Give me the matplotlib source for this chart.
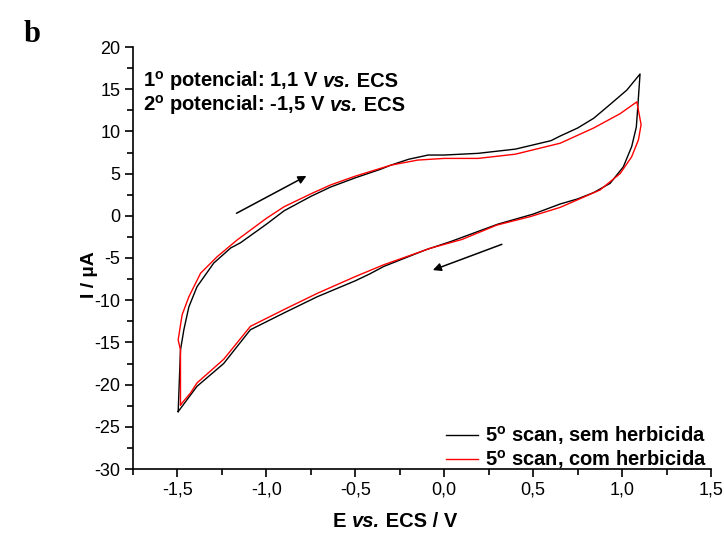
import matplotlib
matplotlib.use("Agg")
import matplotlib.pyplot as plt
from matplotlib.ticker import MultipleLocator, FuncFormatter

plt.rcParams['font.family'] = ['Liberation Sans', 'DejaVu Sans']
plt.rcParams['axes.unicode_minus'] = False
plt.rcParams['mathtext.fontset'] = 'custom'
plt.rcParams['mathtext.bf'] = 'Liberation Sans:bold'
plt.rcParams['mathtext.rm'] = 'Liberation Sans'

# ---- data ----
# black: 5th scan, without herbicide (forward branch then reverse branch)
E_black = [-1.496, -1.483, -1.464, -1.436, -1.39, -1.296, -1.20, -1.146, -1.0, -0.90,
           -0.75, -0.64, -0.50, -0.36, -0.30, -0.20, -0.09, 0.0, 0.19, 0.40, 0.60,
           0.652, 0.75, 0.84, 0.933, 1.027, 1.101,
           1.087, 1.08, 1.054, 1.007, 0.933, 0.84, 0.75, 0.652, 0.50, 0.30, 0.034,
           -0.10, -0.34, -0.42, -0.50, -0.715, -0.90, -1.09, -1.24, -1.39, -1.496]
I_black = [-23.2, -15.9, -13.5, -10.8, -8.4, -5.6, -3.8, -3.2, -1.0, 0.6,
           2.3, 3.4, 4.5, 5.5, 6.0, 6.7, 7.2, 7.2, 7.4, 7.9, 8.9,
           9.45, 10.4, 11.55, 13.2, 14.9, 16.8,
           12.5, 10.5, 8.2, 5.8, 3.85, 2.75, 2.0, 1.4, 0.2, -1.0, -3.07,
           -4.0, -6.0, -6.9, -7.7, -9.6, -11.5, -13.5, -17.5, -20.2, -23.2]

# red: 5th scan, with herbicide
E_red = [-1.483, -1.483, -1.496, -1.474, -1.436, -1.37, -1.277, -1.165, -1.0, -0.90,
         -0.75, -0.64, -0.50, -0.30, -0.15, 0.0, 0.19, 0.40, 0.652, 0.84, 0.989, 1.083,
         1.107, 1.092, 1.054, 0.989, 0.876, 0.75, 0.652, 0.483, 0.296, 0.10, -0.079,
         -0.34, -0.50, -0.715, -0.90, -1.09, -1.24, -1.39, -1.427, -1.483]
I_red = [-22.4, -15.9, -14.7, -11.75, -9.6, -6.8, -4.85, -2.87, -0.3, 1.08,
         2.6, 3.65, 4.7, 6.0, 6.6, 6.8, 6.8, 7.3, 8.6, 10.4, 12.1, 13.5,
         10.8, 9.0, 7.0, 5.0, 3.06, 1.9, 1.0, -0.1, -1.1, -2.8, -3.85,
         -5.8, -7.2, -9.2, -11.1, -13.1, -17.0, -19.8, -21.0, -22.4]

series_labels = ['5$^{\\mathbf{o}}$ scan, sem herbicida', '5$^{\\mathbf{o}}$ scan, com herbicida']
x_ticks = [-1.5, -1.0, -0.5, 0.0, 0.5, 1.0, 1.5]
y_ticks = [-30, -25, -20, -15, -10, -5, 0, 5, 10, 15, 20]

# ---- figure ----
fig = plt.figure(figsize=(7.24, 5.34), dpi=100)
ax = fig.add_axes([133/724, 1-469/534, (711-133)/724, (469-47)/534])

ax.plot(E_black, I_black, color='black', lw=1.0, label=series_labels[0])
ax.plot(E_red, I_red, color='red', lw=1.0, label=series_labels[1])

ax.set_xlim(-1.75, 1.5)
ax.set_ylim(-30, 20)
ax.set_xticks(x_ticks)
ax.set_yticks(y_ticks)
ax.xaxis.set_minor_locator(MultipleLocator(0.25))
ax.yaxis.set_minor_locator(MultipleLocator(2.5))
ax.xaxis.set_major_formatter(FuncFormatter(lambda v, p: f"{v:.1f}".replace('.', ',')))
ax.yaxis.set_major_formatter(FuncFormatter(lambda v, p: f"{int(round(v))}"))
for s in ['top', 'right']:
    ax.spines[s].set_visible(False)
for s in ['left', 'bottom']:
    ax.spines[s].set_linewidth(1.2)
ax.tick_params(which='major', direction='out', length=6, width=1.2, labelsize=13, pad=3)
ax.tick_params(which='minor', direction='out', length=4, width=1.2)

ax.set_ylabel('I / µA', fontsize=14, fontweight='bold')
ax.yaxis.set_label_coords(-0.06, 0.46)

renderer = fig.canvas.get_renderer()


def chain(segments, x_px, y_px, size):
    """Draw bold text segments one after another on a common baseline (pixel coords)."""
    x = x_px
    for txt, st in segments:
        fig.text(x / 724, 1 - y_px / 534, txt, fontsize=size, fontweight='bold',
                 style=st, va='baseline', ha='left')
        probe = fig.text(0, 0, '|' + txt + '|', fontsize=size, fontweight='bold', style=st)
        bar = fig.text(0, 0, '||', fontsize=size, fontweight='bold', style=st)
        w = probe.get_window_extent(renderer).width - bar.get_window_extent(renderer).width
        probe.remove()
        bar.remove()
        x += w


# x label with italic "vs."
chain([('E ', 'normal'), ('vs.', 'italic'), (' ECS / V', 'normal')], 333, 527, 14.5)

# header annotations
chain([('1$^{\\mathbf{o}}$ potencial: 1,1 V ', 'normal'), ('vs.', 'italic'), (' ECS', 'normal')],
      143, 87, 14.5)
chain([('2$^{\\mathbf{o}}$ potencial: -1,5 V ', 'normal'), ('vs.', 'italic'), (' ECS', 'normal')],
      143, 111, 14.5)

# scan direction arrows
ax.annotate('', xy=(-0.775, 4.72), xytext=(-1.168, 0.30),
            arrowprops=dict(arrowstyle='-|>', color='black', lw=1.1,
                            mutation_scale=12, shrinkA=0, shrinkB=0))
ax.annotate('', xy=(-0.064, -6.43), xytext=(0.324, -3.38),
            arrowprops=dict(arrowstyle='-|>', color='black', lw=1.1,
                            mutation_scale=12, shrinkA=0, shrinkB=0))

leg = ax.legend(loc='center right', bbox_to_anchor=(0.993, 0.05), frameon=False,
                prop={'weight': 'bold', 'size': 14.5}, handlelength=1.6,
                handletextpad=0.35, labelspacing=0.05, borderaxespad=0, borderpad=0)

fig.text(24/724, 1-42/534, 'b', fontsize=22, fontweight='bold',
         family=['Liberation Serif', 'DejaVu Serif'])

fig.savefig('out.png', dpi=100)
